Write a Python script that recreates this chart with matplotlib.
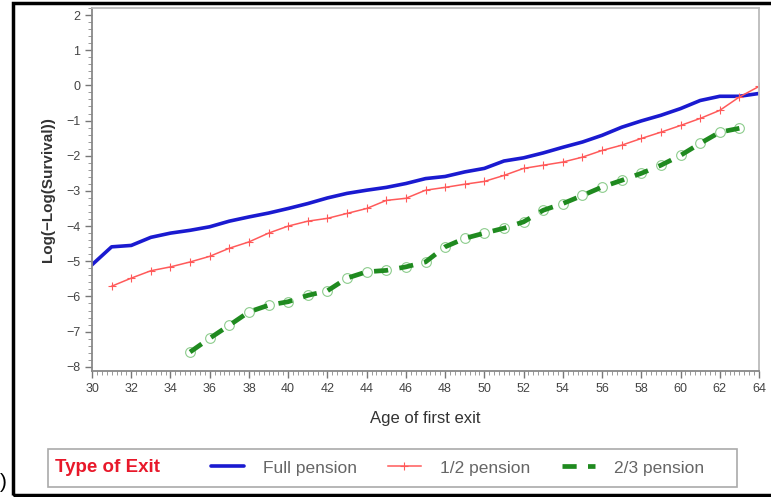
import numpy as np
import matplotlib
matplotlib.use("Agg")
import matplotlib.pyplot as plt
from matplotlib.patches import Rectangle
from matplotlib.ticker import MultipleLocator

plt.rcParams['font.family'] = ['Liberation Sans', 'DejaVu Sans']
plt.rcParams['axes.unicode_minus'] = True

# ages and log(-log(survival)) curves
age_full = list(range(30, 65))
full = [-5.10, -4.59, -4.55, -4.32, -4.20, -4.12, -4.02, -3.86, -3.74, -3.63,
        -3.50, -3.36, -3.20, -3.07, -2.98, -2.90, -2.79, -2.65, -2.59, -2.46,
        -2.36, -2.15, -2.06, -1.92, -1.76, -1.61, -1.42, -1.19, -1.01, -0.85,
        -0.66, -0.43, -0.31, -0.31, -0.23]

age_half = list(range(31, 65))
half = [-5.71, -5.48, -5.27, -5.16, -5.02, -4.86, -4.63, -4.45, -4.20, -4.00,
        -3.86, -3.78, -3.64, -3.50, -3.27, -3.21, -2.98, -2.90, -2.81, -2.73,
        -2.56, -2.36, -2.27, -2.18, -2.04, -1.85, -1.70, -1.51, -1.33, -1.14,
        -0.94, -0.71, -0.33, -0.03]

age_twothird = list(range(35, 64))
twothird = [-7.58, -7.19, -6.82, -6.44, -6.25, -6.15, -5.97, -5.84, -5.48, -5.30,
            -5.26, -5.16, -5.02, -4.59, -4.35, -4.20, -4.06, -3.88, -3.55, -3.36,
            -3.13, -2.89, -2.70, -2.50, -2.27, -1.99, -1.65, -1.33, -1.22]

labels = ["Full pension", "1/2 pension", "2/3 pension"]

fig = plt.figure(figsize=(7.71, 4.97), dpi=100)
ax = fig.add_axes([92/771, 1-371/497, (759-92)/771, (371-8)/497])

l1, = ax.plot(age_full, full, color='#1a1ad0', lw=2.6, solid_capstyle='round')
l2, = ax.plot(age_half, half, color='#ff5a5a', lw=1.1, marker='+', ms=6, mew=0.8)
ax.plot(age_twothird, twothird, ls='none', marker='o', ms=7, mfc='white',
        mec='#8ccc8c', mew=0.8, zorder=2)
l3, = ax.plot(age_twothird, twothird, color='#1f8a1f', lw=3.4, ls=(0, (3.0, 2.4)),
              zorder=3, marker='o', ms=7, mfc='none', mec='none')

ax.set_xlim(30, 64)
ax.set_ylim(-8.12, 2.2)
ax.xaxis.set_major_locator(MultipleLocator(2))
ax.xaxis.set_minor_locator(MultipleLocator(0.25))
ax.yaxis.set_major_locator(MultipleLocator(1))
ax.yaxis.set_minor_locator(MultipleLocator(0.2))
ax.tick_params(which='major', length=5, width=1, color='#777', labelsize=9,
               labelcolor='#444')
ax.tick_params(which='minor', length=3, width=0.7, color='#999')
for s in ['left', 'bottom']:
    ax.spines[s].set_color('#888')
    ax.spines[s].set_linewidth(1.3)
for s in ['top', 'right']:
    ax.spines[s].set_color('#bbb')
    ax.spines[s].set_linewidth(1.3)

ax.set_xlabel("Age of first exit", fontsize=12, color='#333', labelpad=12)
ax.set_ylabel("Log(\u2212Log(Survival))", fontsize=11, color='#333',
              fontweight='bold', labelpad=8)

# legend panel
fig.patches.append(Rectangle((48/771, 1-487/497), (737-48)/771, (487-449)/497,
                             transform=fig.transFigure, fill=False,
                             ec='#aaa', lw=1.2))
fig.text(55/771, 1-468/497, "Type of Exit", color='#e8182a', fontsize=13.5,
         fontweight='bold', va='center', ha='left')
fig.legend([l1, l2, l3], labels, loc='center left', ncol=3, frameon=False,
           bbox_to_anchor=(195/771, 1-468/497), fontsize=12.5,
           labelcolor='#666', handlelength=1.9, columnspacing=1.8,
           handletextpad=1.1)

# outer frame and stray bracket
fig.patches.append(Rectangle((13/771, 1-495/497), 770/771, 492/497,
                             transform=fig.transFigure, fill=False,
                             ec='black', lw=2.5))
fig.text(0.0, 1-482/497, ")", fontsize=15, va='center', ha='left')

fig.savefig("out.png", dpi=100)
